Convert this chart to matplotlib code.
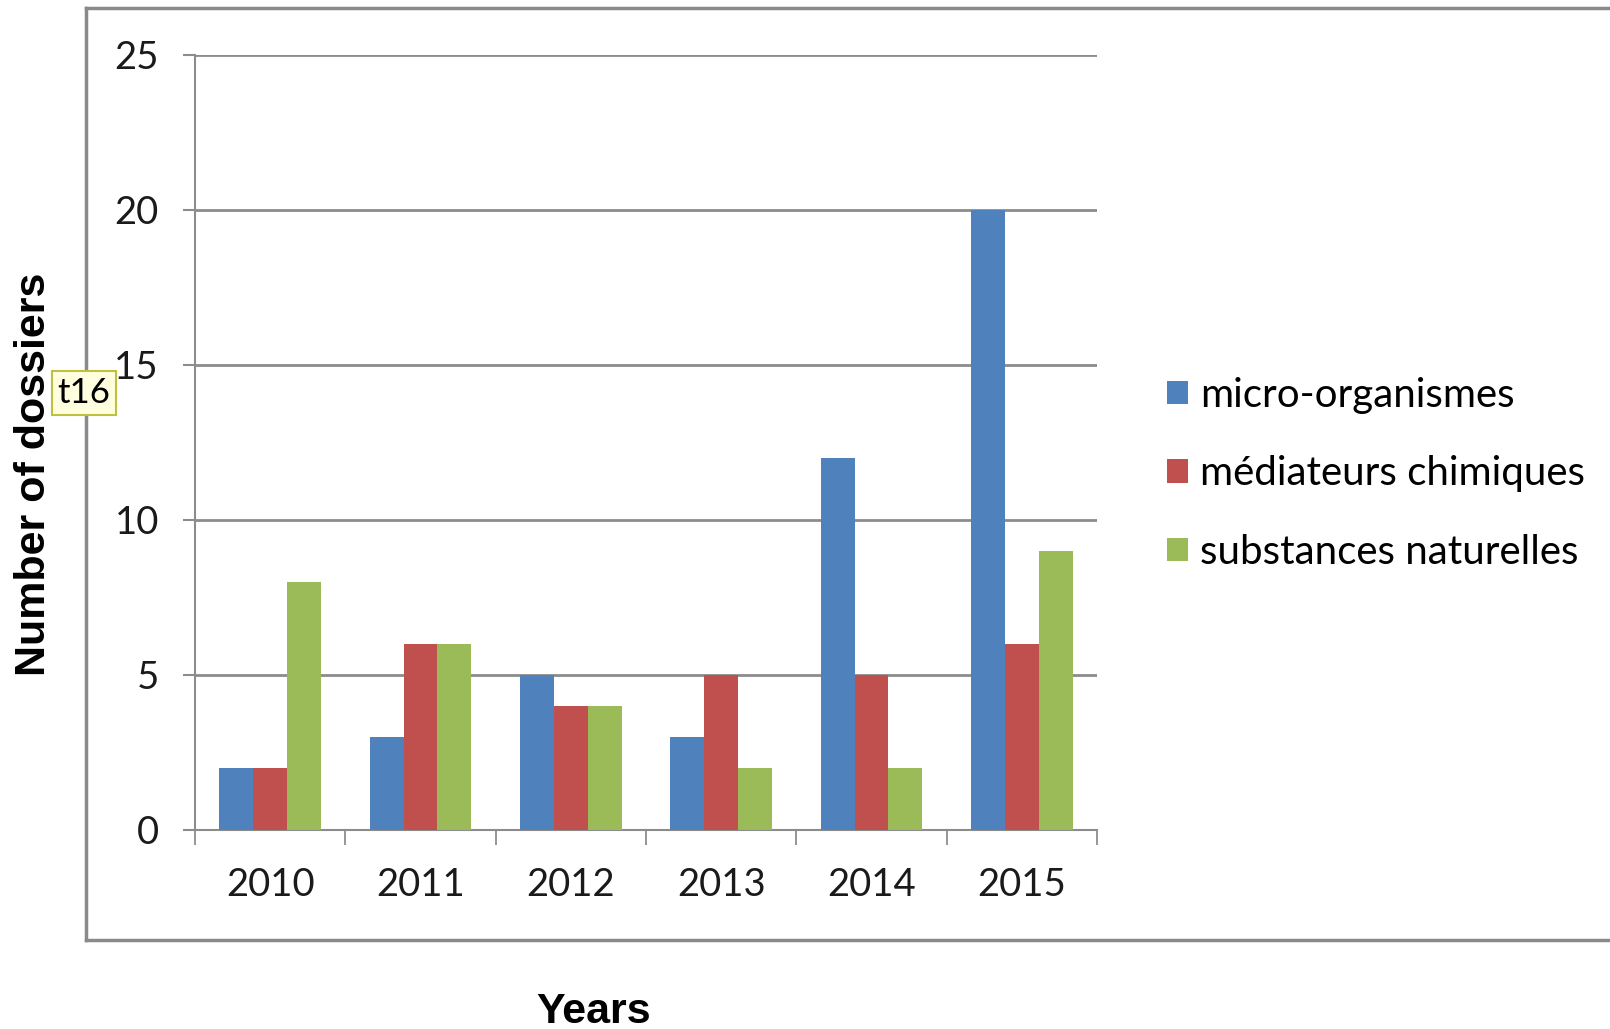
import numpy as np
import matplotlib
matplotlib.use('Agg')
import matplotlib.pyplot as plt
from matplotlib.lines import Line2D

# Data
years = ['2010', '2011', '2012', '2013', '2014', '2015']
micro = [2, 3, 5, 3, 12, 20]
mediateurs = [2, 6, 4, 5, 5, 6]
substances = [8, 6, 4, 2, 2, 9]
series_names = ['micro-organismes', 'médiateurs chimiques', 'substances naturelles']
colors = ['#4F81BD', '#C0504D', '#9BBB59']
yticks = [0, 5, 10, 15, 20, 25]

W, H = 1610, 1029
fig = plt.figure(figsize=(W / 100, H / 100), dpi=100)
ax = fig.add_axes([195 / W, 1 - 830 / H, (1097 - 195) / W, (830 - 54.5) / H])

grey = '#8c8c8c'
x = np.arange(len(years))
bw = 0.225
for i, (vals, name) in enumerate(zip([micro, mediateurs, substances], series_names)):
    ax.bar(x + (i - 1) * bw, vals, width=bw, color=colors[i], label=name, zorder=3)

# axes look (excel style)
ax.set_xlim(-0.5, len(years) - 0.5)
ax.set_ylim(0, 25)
ax.set_yticks(yticks)
ax.set_yticklabels([str(v) for v in yticks], fontsize=27.5, family='Lato', color='#1a1a1a')
ax.yaxis.grid(True, color=grey, linewidth=2, zorder=0)
ax.set_axisbelow(True)

ax.set_xticks(np.arange(-0.5, len(years), 1))
ax.set_xticklabels([])
ax.set_xticks(x, minor=True)
ax.set_xticklabels(years, minor=True, fontsize=27.5, family='Lato', color='#1a1a1a')
ax.tick_params(axis='x', which='major', length=11, width=1.3, color=grey, direction='out')
ax.tick_params(axis='x', which='minor', length=0, pad=27)
ax.tick_params(axis='y', length=9, width=1.5, color=grey, direction='out', pad=17)

ax.spines['top'].set_visible(False)
ax.spines['right'].set_visible(False)
ax.spines['left'].set_color(grey)
ax.spines['bottom'].set_color(grey)
ax.spines['left'].set_linewidth(1.5)
ax.spines['bottom'].set_linewidth(1.5)

# outer chart frame (runs off the right edge)
fl, ft, fb = 86 / W, 1 - 8 / H, 1 - 940 / H
for xs, ys in [([fl, fl], [fb, ft]), ([fl, 1.01], [ft, ft]), ([fl, 1.01], [fb, fb])]:
    fig.add_artist(Line2D(xs, ys, transform=fig.transFigure, color='#8a8a8a', linewidth=2.5))

# legend
ax.legend(loc='center left', bbox_to_anchor=(1151 / W, 1 - 474 / H), bbox_transform=fig.transFigure,
          frameon=False, prop={'family': 'Lato', 'size': 29}, handlelength=0.52, handleheight=0.52,
          handletextpad=0.3, labelspacing=1.03, borderaxespad=0)

# axis titles
fig.text(34 / W, 1 - 474 / H, 'Number of dossiers', rotation=90, ha='center', va='center',
         fontsize=31, fontweight='bold', family='Liberation Sans')
fig.text(594 / W, 1 - 992 / H, 'Years', ha='center', va='top',
         fontsize=31, fontweight='bold', family='Liberation Sans')

# little marker tag
fig.text(84 / W, 1 - 393 / H, 't16', ha='center', va='center', fontsize=25, family='Lato',
         bbox=dict(boxstyle='square,pad=0.16', facecolor='#ffffe0', edgecolor='#c0c040', linewidth=1.5))

fig.savefig('out.png', dpi=100)
